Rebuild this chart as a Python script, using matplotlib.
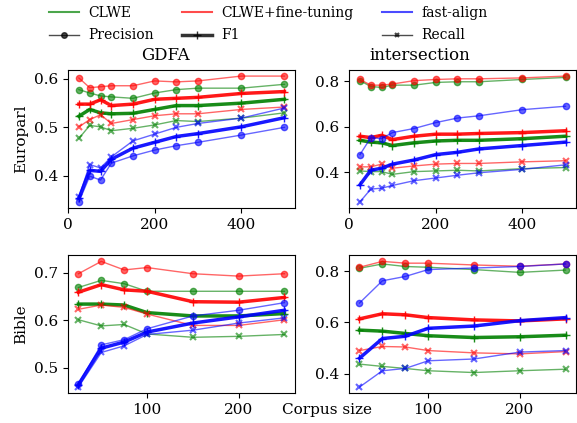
import matplotlib
matplotlib.use("Agg")
import matplotlib.pyplot as plt
from matplotlib.lines import Line2D

plt.rcParams['font.family'] = 'DejaVu Serif'

x_euro = [25, 50, 75, 100, 150, 200, 250, 300, 400, 500]
x_bible = [25, 50, 75, 100, 150, 200, 250]

# GDFA, Europarl
gdfa_euro = {
    'CLWE': {
        'P': [0.578, 0.571, 0.565, 0.563, 0.560, 0.571, 0.578, 0.581, 0.581, 0.589],
        'F1': [0.523, 0.537, 0.530, 0.528, 0.529, 0.537, 0.545, 0.545, 0.550, 0.558],
        'R': [0.477, 0.504, 0.501, 0.493, 0.498, 0.505, 0.514, 0.512, 0.519, 0.530],
    },
    'CLWE+fine-tuning': {
        'P': [0.602, 0.582, 0.584, 0.586, 0.586, 0.596, 0.594, 0.596, 0.606, 0.606],
        'F1': [0.548, 0.548, 0.557, 0.545, 0.548, 0.558, 0.560, 0.562, 0.570, 0.574],
        'R': [0.501, 0.516, 0.526, 0.508, 0.516, 0.524, 0.528, 0.528, 0.537, 0.542],
    },
    'fast-align': {
        'P': [0.346, 0.399, 0.391, 0.426, 0.441, 0.453, 0.462, 0.469, 0.484, 0.500],
        'F1': [0.353, 0.411, 0.409, 0.434, 0.457, 0.469, 0.481, 0.487, 0.501, 0.520],
        'R': [0.356, 0.423, 0.416, 0.439, 0.472, 0.486, 0.500, 0.508, 0.519, 0.540],
    },
}

# intersection, Europarl
inter_euro = {
    'CLWE': {
        'P': [0.803, 0.777, 0.773, 0.783, 0.783, 0.795, 0.798, 0.798, 0.808, 0.817],
        'F1': [0.540, 0.532, 0.529, 0.517, 0.529, 0.537, 0.540, 0.540, 0.547, 0.558],
        'R': [0.405, 0.402, 0.402, 0.390, 0.402, 0.405, 0.408, 0.405, 0.415, 0.420],
    },
    'CLWE+fine-tuning': {
        'P': [0.808, 0.783, 0.783, 0.788, 0.803, 0.808, 0.811, 0.811, 0.815, 0.823],
        'F1': [0.558, 0.552, 0.562, 0.543, 0.558, 0.567, 0.567, 0.570, 0.574, 0.582],
        'R': [0.423, 0.423, 0.435, 0.417, 0.427, 0.435, 0.438, 0.438, 0.445, 0.450],
    },
    'fast-align': {
        'P': [0.477, 0.552, 0.547, 0.574, 0.592, 0.618, 0.638, 0.648, 0.675, 0.690],
        'F1': [0.344, 0.408, 0.417, 0.435, 0.453, 0.477, 0.487, 0.502, 0.517, 0.532],
        'R': [0.269, 0.325, 0.329, 0.341, 0.362, 0.374, 0.386, 0.397, 0.412, 0.432],
    },
}

# GDFA, Bible
gdfa_bible = {
    'CLWE': {
        'P': [0.669, 0.684, 0.677, 0.661, 0.661, 0.661, 0.661],
        'F1': [0.634, 0.634, 0.632, 0.616, 0.609, 0.609, 0.614],
        'R': [0.601, 0.588, 0.591, 0.571, 0.564, 0.566, 0.570],
    },
    'CLWE+fine-tuning': {
        'P': [0.698, 0.724, 0.706, 0.711, 0.698, 0.693, 0.698],
        'F1': [0.659, 0.675, 0.664, 0.661, 0.639, 0.638, 0.648],
        'R': [0.623, 0.632, 0.627, 0.613, 0.589, 0.589, 0.601],
    },
    'fast-align': {
        'P': [0.466, 0.548, 0.559, 0.582, 0.609, 0.621, 0.637],
        'F1': [0.464, 0.541, 0.554, 0.575, 0.594, 0.607, 0.621],
        'R': [0.459, 0.532, 0.546, 0.570, 0.579, 0.594, 0.605],
    },
}

# intersection, Bible
inter_bible = {
    'CLWE': {
        'P': [0.812, 0.829, 0.819, 0.816, 0.807, 0.796, 0.805],
        'F1': [0.570, 0.566, 0.557, 0.548, 0.541, 0.544, 0.550],
        'R': [0.437, 0.428, 0.420, 0.411, 0.404, 0.411, 0.417],
    },
    'CLWE+fine-tuning': {
        'P': [0.816, 0.839, 0.832, 0.832, 0.825, 0.820, 0.829],
        'F1': [0.614, 0.634, 0.630, 0.619, 0.610, 0.606, 0.614],
        'R': [0.490, 0.506, 0.504, 0.490, 0.481, 0.477, 0.486],
    },
    'fast-align': {
        'P': [0.676, 0.763, 0.780, 0.807, 0.813, 0.819, 0.829],
        'F1': [0.460, 0.537, 0.546, 0.577, 0.586, 0.607, 0.619],
        'R': [0.347, 0.411, 0.420, 0.450, 0.457, 0.484, 0.490],
    },
}

colors = {'CLWE': 'g', 'CLWE+fine-tuning': 'r', 'fast-align': 'b'}
styles = {'P': dict(marker='o', lw=1, ms=4.5, alpha=0.6),
          'F1': dict(marker='+', lw=2.5, ms=6, alpha=0.9),
          'R': dict(marker='x', lw=1, ms=4, mew=1.5, alpha=0.6)}

fig, axes = plt.subplots(2, 2, figsize=(5.77, 4.23), dpi=100)
fig.subplots_adjust(left=0.118, right=0.998, top=0.835, bottom=0.07,
                    wspace=0.24, hspace=0.34)

panels = [(axes[0, 0], x_euro, gdfa_euro), (axes[0, 1], x_euro, inter_euro),
          (axes[1, 0], x_bible, gdfa_bible), (axes[1, 1], x_bible, inter_bible)]
for ax, xs, data in panels:
    for method, d in data.items():
        for metric in ['P', 'F1', 'R']:
            ax.plot(xs, d[metric], color=colors[method], **styles[metric])
    ax.tick_params(labelsize=11)

axes[0, 0].set_xticks([0, 200, 400])
axes[0, 1].set_xticks([0, 200, 400])
axes[0, 0].set_yticks([0.4, 0.5, 0.6])
axes[0, 1].set_yticks([0.4, 0.6, 0.8])
axes[1, 0].set_xticks([100, 200])
axes[1, 1].set_xticks([100, 200])
axes[1, 0].set_yticks([0.5, 0.6, 0.7])
axes[1, 1].set_yticks([0.4, 0.6, 0.8])

axes[0, 0].text(0.43, 1.04, 'GDFA', transform=axes[0, 0].transAxes,
                ha='center', va='bottom', fontsize=12)
axes[0, 1].text(0.31, 1.04, 'intersection', transform=axes[0, 1].transAxes,
                ha='center', va='bottom', fontsize=12)
axes[0, 0].set_ylabel('Europarl', fontsize=11)
axes[1, 0].set_ylabel('Bible', fontsize=11)
fig.text(0.567, 0.03, 'Corpus size', ha='center', va='center', fontsize=11)

handles = [
    Line2D([], [], color='g', lw=1.5, alpha=0.7),
    Line2D([], [], color='k', lw=1, marker='o', ms=4, alpha=0.7),
    Line2D([], [], color='r', lw=1.5, alpha=0.7),
    Line2D([], [], color='k', lw=2.5, marker='+', ms=6, alpha=0.8),
    Line2D([], [], color='b', lw=1.5, alpha=0.7),
    Line2D([], [], color='k', lw=1, marker='x', ms=3.5, mew=1.5, alpha=0.7),
]
labels = ['CLWE', 'Precision', 'CLWE+fine-tuning', 'F1', 'fast-align', 'Recall']
fig.legend(handles, labels, ncol=3, loc='upper center',
           bbox_to_anchor=(0.465, 1.015), frameon=False, fontsize=10,
           handlelength=2.15, handletextpad=0.7, columnspacing=2.0,
           labelspacing=0.6)

plt.savefig('out.png', dpi=100)
